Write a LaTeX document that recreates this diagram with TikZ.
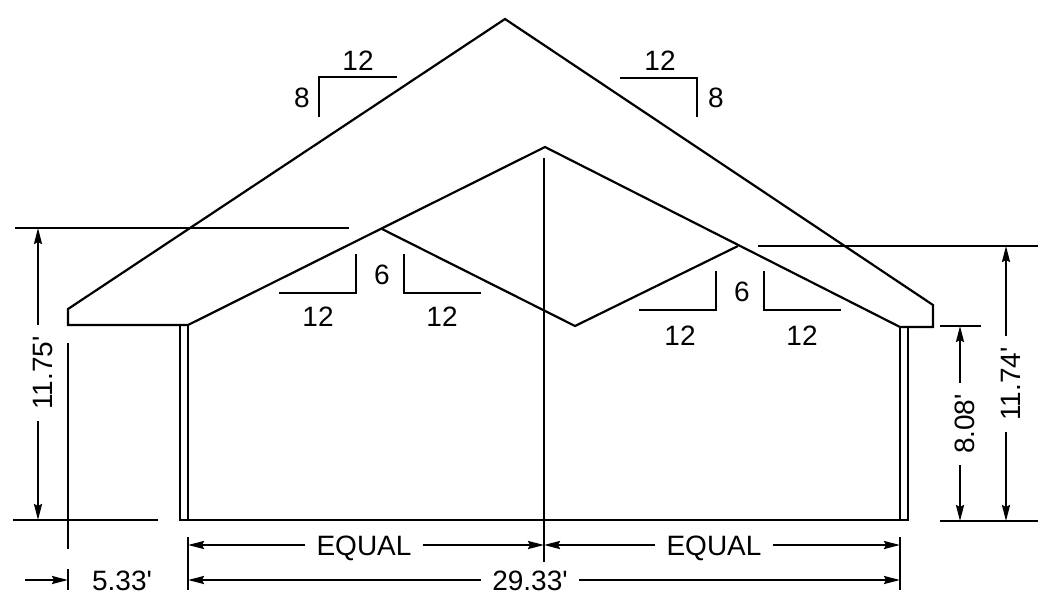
\documentclass[tikz,border=0pt]{standalone}
\usepackage{fontspec}
\setmainfont{Liberation Sans}
\usetikzlibrary{arrows.meta}

\tikzset{
  part/.style = {line width=2.2pt, line join=miter},
  dimline/.style = {line width=2.2pt, -{Stealth[length=16pt, width=8pt, inset=2pt]}},
  lbl/.style = {font=\fontsize{28}{28}\selectfont, text height=20pt, text depth=0pt, inner sep=0pt},
  dimlbl/.style = {lbl, inner xsep=11pt},
  sidelbl/.style = {dimlbl, rotate=90, text height=28pt}
}

\begin{document}
\begin{tikzpicture} [x=1pt, y=-1pt]
        \useasboundingbox (0,0) rectangle (1038,590);

        % roof and truss
        \coordinate (apex) at (505,19);
        \coordinate (eaveL) at (68,309);
        \coordinate (soffitL) at (68,325);
        \coordinate (heelL) at (188,325);
        \coordinate (peak) at (545,147);
        \coordinate (heelR) at (900,327);
        \coordinate (soffitR) at (933,327);
        \coordinate (eaveR) at (933,305);
        \coordinate (webL) at (382,229);
        \coordinate (webM) at (575,326);
        \coordinate (webR) at (738,246);
        \draw [part] (apex) -- (eaveL) -- (soffitL) -- (heelL) -- (peak) -- (heelR) -- (soffitR) -- (eaveR) -- cycle;
        \draw [part] (webL) -- (webM) -- (webR);

        % walls
        \coordinate (wallA) at (180,325);
        \coordinate (wallB) at (180,520);
        \coordinate (wallC) at (908,520);
        \coordinate (wallD) at (908,327);
        \coordinate (wallE) at (188,520);
        \coordinate (wallF) at (900,520);
        \draw [part] (wallA) -- (wallB) -- (wallC) -- (wallD);
        \draw [part] (heelL) -- (wallE);
        \draw [part] (heelR) -- (wallF);

        % extension lines
        \coordinate (cenT) at (544,158);
        \coordinate (cenB) at (544,562);
        \coordinate (extA) at (15,228);
        \coordinate (extB) at (349,228);
        \coordinate (extC) at (13,520);
        \coordinate (extD) at (158,520);
        \coordinate (extE) at (68,343);
        \coordinate (extF) at (68,549);
        \coordinate (extG) at (758,246);
        \coordinate (extH) at (1038,246);
        \coordinate (extI) at (940,521);
        \coordinate (extJ) at (1038,521);
        \coordinate (extK) at (940,326);
        \coordinate (extL) at (981,326);
        \coordinate (extM) at (188,537);
        \coordinate (extN) at (188,590);
        \coordinate (extO) at (900,537);
        \coordinate (extP) at (900,590);
        \coordinate (extQ) at (68,569);
        \coordinate (extR) at (68,590);
        \draw [part] (cenT) -- (cenB);
        \draw [part] (extA) -- (extB);
        \draw [part] (extC) -- (extD);
        \draw [part] (extE) -- (extF);
        \draw [part] (extG) -- (extH);
        \draw [part] (extI) -- (extJ);
        \draw [part] (extK) -- (extL);
        \draw [part] (extM) -- (extN);
        \draw [part] (extO) -- (extP);
        \draw [part] (extQ) -- (extR);

        % slope marks
        \coordinate (a1) at (397,77);
        \coordinate (a2) at (319,77);
        \coordinate (a3) at (319,117);
        \coordinate (b1) at (620,78);
        \coordinate (b2) at (697,78);
        \coordinate (b3) at (697,117);
        \coordinate (c1) at (279,293);
        \coordinate (c2) at (356,293);
        \coordinate (c3) at (356,254);
        \coordinate (d1) at (404,254);
        \coordinate (d2) at (404,293);
        \coordinate (d3) at (481,293);
        \coordinate (e1) at (639,310);
        \coordinate (e2) at (716,310);
        \coordinate (e3) at (716,271);
        \coordinate (f1) at (764,271);
        \coordinate (f2) at (764,310);
        \coordinate (f3) at (841,310);
        \draw [part] (a1) -- (a2) -- (a3);
        \draw [part] (b1) -- (b2) -- (b3);
        \draw [part] (c1) -- (c2) -- (c3);
        \draw [part] (d1) -- (d2) -- (d3);
        \draw [part] (e1) -- (e2) -- (e3);
        \draw [part] (f1) -- (f2) -- (f3);

        \node (runA) [lbl] at (358,60) {12};
        \node (riseA) [lbl] at (302,97) {8};
        \node (runB) [lbl] at (660,60) {12};
        \node (riseB) [lbl] at (716,97) {8};
        \node (runC) [lbl] at (318,316) {12};
        \node (riseC) [lbl] at (382,274) {6};
        \node (runD) [lbl] at (442,316) {12};
        \node (runE) [lbl] at (680,335) {12};
        \node (riseE) [lbl] at (742,291) {6};
        \node (runF) [lbl] at (802,335) {12};

        % dimensions
        \node (dimLeft) [sidelbl] at (38,373) {11.75\textquotesingle};
        \node (dimWall) [sidelbl] at (960,424) {8.08\textquotesingle};
        \node (dimRight) [sidelbl] at (1006,384) {11.74\textquotesingle};
        \node (dimEqL) [dimlbl] at (364,545) {EQUAL};
        \node (dimEqR) [dimlbl] at (714,545) {EQUAL};
        \node (dimSpan) [dimlbl] at (530,580) {29.33\textquotesingle};
        \node (dimOver) [lbl] at (122,580) {5.33\textquotesingle};

        \coordinate (p1) at (38,228);
        \coordinate (p2) at (38,520);
        \coordinate (p3) at (960,326);
        \coordinate (p4) at (960,521);
        \coordinate (p5) at (1006,246);
        \coordinate (p6) at (1006,521);
        \coordinate (p7) at (188,545);
        \coordinate (p8) at (544,545);
        \coordinate (p9) at (900,545);
        \coordinate (p10) at (188,580);
        \coordinate (p11) at (900,580);
        \coordinate (p12) at (25,580);
        \coordinate (p13) at (68,580);
        \draw [dimline] (dimLeft) -- (p1);
        \draw [dimline] (dimLeft) -- (p2);
        \draw [dimline] (dimWall) -- (p3);
        \draw [dimline] (dimWall) -- (p4);
        \draw [dimline] (dimRight) -- (p5);
        \draw [dimline] (dimRight) -- (p6);
        \draw [dimline] (dimEqL) -- (p7);
        \draw [dimline] (dimEqL) -- (p8);
        \draw [dimline] (dimEqR) -- (p8);
        \draw [dimline] (dimEqR) -- (p9);
        \draw [dimline] (dimSpan) -- (p10);
        \draw [dimline] (dimSpan) -- (p11);
        \draw [dimline] (p12) -- (p13);
\end{tikzpicture}
\end{document}
